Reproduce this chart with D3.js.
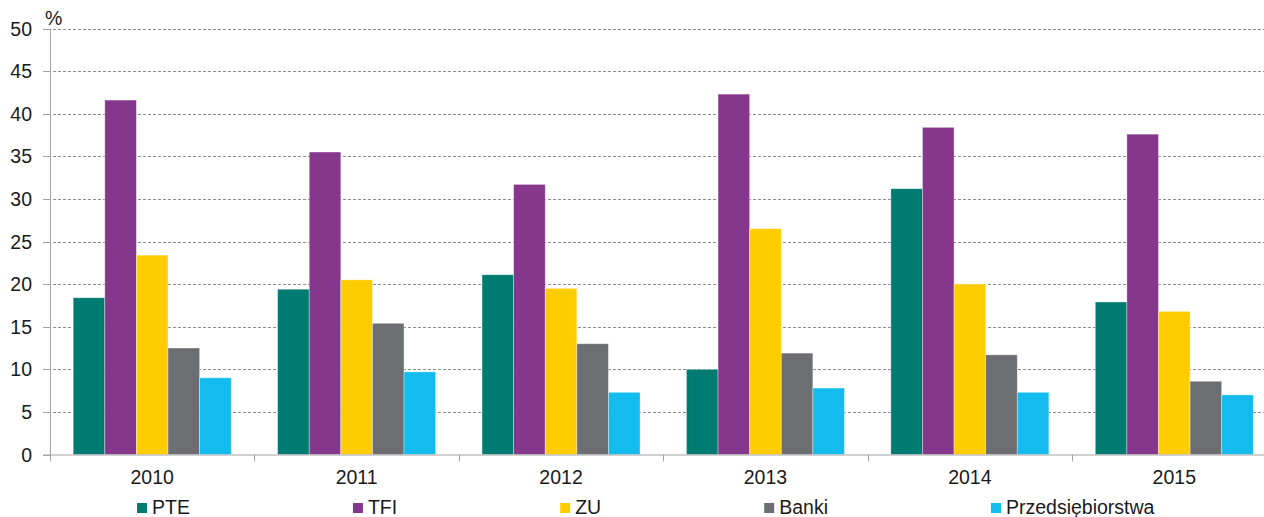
<!DOCTYPE html>
<html>
<head>
<meta charset="utf-8">
<script src="https://cdn.jsdelivr.net/npm/d3@7"></script>
<style>
  body { margin: 0; background: #fff; }
  svg text { font-family: "Liberation Sans", Arial, sans-serif; font-size: 19.5px; fill: #1a1a1a; }
</style>
</head>
<body>
<svg id="chart" width="1264" height="517"></svg>
<script>
// data
const years = ['2010', '2011', '2012', '2013', '2014', '2015'];
const seriesNames = ['PTE', 'TFI', 'ZU', 'Banki', 'Przedsiębiorstwa'];
const pte    = [18.4, 19.4, 21.1, 10.0, 31.2, 17.9];
const tfi    = [41.6, 35.5, 31.7, 42.3, 38.4, 37.6];
const zu     = [23.4, 20.5, 19.5, 26.5, 20.0, 16.8];
const banki  = [12.5, 15.4, 13.0, 11.9, 11.7, 8.6];
const przeds = [9.0, 9.7, 7.3, 7.8, 7.3, 7.0];
const yTicks = [0, 5, 10, 15, 20, 25, 30, 35, 40, 45, 50];

const seriesValues = [pte, tfi, zu, banki, przeds];
const colors = ['#007B71', '#84378B', '#FFCC00', '#6D6E71', '#13BBEE'];

const svg = d3.select('#chart');
const plotLeft = 50, plotRight = 1276.5, plotTop = 28.5, plotBottom = 454.5;

const y = d3.scaleLinear().domain([0, 50]).range([plotBottom, plotTop]);
const x0 = d3.scaleBand().domain(years).range([plotLeft, plotRight])
    .paddingInner(0.227).paddingOuter(0.1135);
const x1 = d3.scaleBand().domain(seriesNames).range([0, x0.bandwidth()]);

// gridlines
svg.append('g')
    .selectAll('line')
    .data(yTicks.filter(t => t > 0))
    .join('line')
    .attr('x1', plotLeft - 7)
    .attr('x2', 1264)
    .attr('y1', d => Math.round(y(d)) + 0.5)
    .attr('y2', d => Math.round(y(d)) + 0.5)
    .attr('stroke', '#8c8c8c')
    .attr('stroke-dasharray', '3,2');

// y tick labels
svg.append('g')
    .selectAll('text')
    .data(yTicks)
    .join('text')
    .attr('x', 32)
    .attr('y', d => y(d) + 7)
    .attr('text-anchor', 'end')
    .text(d => d);

svg.append('text').attr('x', 45).attr('y', 25).text('%');

// bars
const rows = years.map((yr, i) => ({ year: yr, vals: seriesNames.map((s, j) => ({ key: s, value: seriesValues[j][i], color: colors[j] })) }));
svg.append('g')
    .selectAll('g')
    .data(rows)
    .join('g')
    .attr('transform', d => `translate(${x0(d.year)},0)`)
    .selectAll('rect')
    .data(d => d.vals)
    .join('rect')
    .attr('x', d => x1(d.key))
    .attr('y', d => y(d.value))
    .attr('width', x1.bandwidth())
    .attr('height', d => plotBottom - y(d.value))
    .attr('fill', d => d.color)
    .attr('stroke', 'rgba(255,255,255,0.45)')
    .attr('stroke-width', 0.8);

// axes
const axisColor = '#a3a3a3';
svg.append('line')
    .attr('x1', plotLeft + 0.5).attr('x2', plotLeft + 0.5)
    .attr('y1', plotTop).attr('y2', plotBottom + 6)
    .attr('stroke', axisColor);
svg.append('g')
    .selectAll('line')
    .data(yTicks)
    .join('line')
    .attr('x1', plotLeft - 7).attr('x2', plotLeft)
    .attr('y1', d => Math.round(y(d)) + 0.5)
    .attr('y2', d => Math.round(y(d)) + 0.5)
    .attr('stroke', axisColor);
svg.append('line')
    .attr('x1', plotLeft - 7).attr('x2', 1264)
    .attr('y1', plotBottom + 0.5).attr('y2', plotBottom + 0.5)
    .attr('stroke', axisColor);
const step = x0.step();
svg.append('g')
    .selectAll('line')
    .data(d3.range(years.length + 1))
    .join('line')
    .attr('x1', i => Math.round(plotLeft + i * step) + 0.5)
    .attr('x2', i => Math.round(plotLeft + i * step) + 0.5)
    .attr('y1', plotBottom)
    .attr('y2', plotBottom + 7)
    .attr('stroke', axisColor);

// x labels
svg.append('g')
    .selectAll('text')
    .data(years)
    .join('text')
    .attr('x', d => x0(d) + x0.bandwidth() / 2)
    .attr('y', 484)
    .attr('text-anchor', 'middle')
    .text(d => d);

// legend
let lx = 137;
const legend = svg.append('g');
seriesNames.forEach((name, i) => {
    legend.append('rect')
        .attr('x', lx).attr('y', 503)
        .attr('width', 10).attr('height', 10)
        .attr('fill', colors[i]);
    const t = legend.append('text')
        .attr('x', lx + 15).attr('y', 514)
        .text(name);
    lx += 15 + t.node().getComputedTextLength() + 163;
});
</script>
</body>
</html>
